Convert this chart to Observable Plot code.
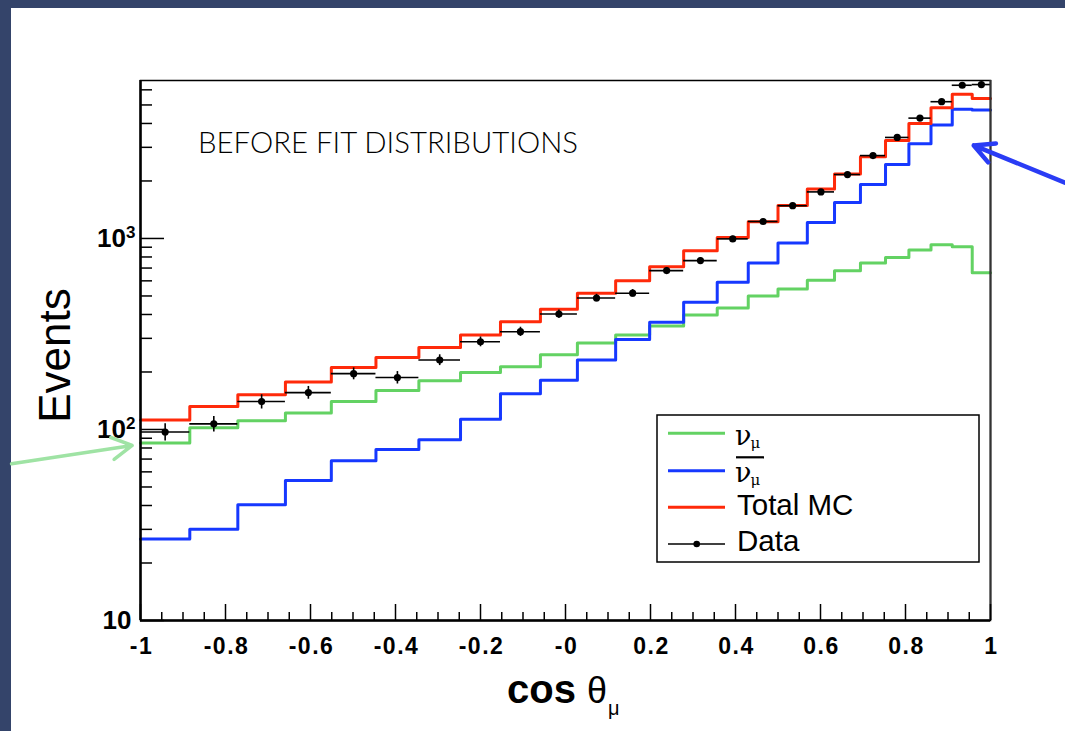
<!DOCTYPE html>
<html>
<head>
<meta charset="utf-8">
<script src="https://cdn.jsdelivr.net/npm/d3@7"></script>
<script src="https://cdn.jsdelivr.net/npm/@observablehq/plot@0.6"></script>
<style>
  html, body { margin: 0; padding: 0; }
  body { width: 1065px; height: 731px; background: #34446a; overflow: hidden; position: relative; }
  #panel { position: absolute; left: 11px; top: 8px; width: 1054px; height: 723px; background: #ffffff; }
  #chart { position: absolute; left: 0; top: 0; }
</style>
</head>
<body>
<div id="panel"></div>
<div id="chart"></div>
<script>
// ---- data ----
const binEdges = [-1, -0.884, -0.771, -0.659, -0.551, -0.446, -0.345, -0.247, -0.153, -0.059,
  0.028, 0.118, 0.198, 0.278, 0.357, 0.430, 0.500, 0.569, 0.633, 0.694,
  0.753, 0.808, 0.860, 0.910, 0.957, 1];

const numu = [85, 102, 111, 122, 140, 160, 180, 199, 213, 246,
  284, 312, 348, 397, 432, 500, 544, 605, 677, 743,
  795, 869, 926, 904, 662];

const numubar = [26.7, 30, 40.4, 54, 68.6, 78.6, 88.3, 113, 154, 181,
  231, 296, 364, 463, 590, 743, 946, 1213, 1545, 1915,
  2438, 3132, 3922, 4743, 4704];

const totalMC = [112, 132, 152, 177, 211, 238, 269, 312, 366, 426,
  517, 601, 712, 862, 1011, 1224, 1490, 1817, 2178, 2676,
  3258, 4000, 4838, 5685, 5397];

const dataVals = [97, 107, 140, 156, 196, 187, 231, 288, 325, 402,
  488, 517, 679, 766, 995, 1227, 1484, 1753, 2161, 2716,
  3380, 4266, 5200, 6340, 6393];

const dataErr = [10, 10, 12, 12, 14, 14, 15, 17, 18, 20,
  22, 23, 26, 28, 32, 35, 39, 42, 46, 52,
  58, 65, 72, 80, 80];

const xMajor = [-1, -0.8, -0.6, -0.4, -0.2, 0, 0.2, 0.4, 0.6, 0.8, 1];
const xTickLabels = ["-1", "-0.8", "-0.6", "-0.4", "-0.2", "-0", "0.2", "0.4", "0.6", "0.8", "1"];
const xMinor = [-0.95, -0.9, -0.85, -0.75, -0.7, -0.65, -0.55, -0.5, -0.45, -0.35, -0.3, -0.25,
  -0.15, -0.1, -0.05, 0.05, 0.1, 0.15, 0.25, 0.3, 0.35, 0.45, 0.5, 0.55, 0.65, 0.7, 0.75,
  0.85, 0.9, 0.95];
const yMajor = [10, 100, 1000];
const yTickBase = ["10", "10", "10"];
const yTickExp = ["", "2", "3"];
const yMinor = [20, 30, 40, 50, 60, 70, 80, 90, 200, 300, 400, 500, 600, 700, 800, 900,
  2000, 3000, 4000, 5000, 6000];
const yDomain = [10, 6714];

const titleText = "BEFORE FIT DISTRIBUTIONS";
const legendLabels = ["ν", "ν", "Total MC", "Data"];

// annotation arrows (tail -> tip) in chart coordinates
const greenArrow = [{x1: -1.3035, y1: 66.1, x2: -1.0195, y2: 82.5}];
const blueArrow = [{x1: 1.1765, y1: 1954, x2: 0.9607, y2: 3069}];

// ---- colours ----
const cGreen = "#63d263", cBlue = "#1638ff", cRed = "#ff2a0a";

// ---- derived tables ----
const histo = vals => binEdges.map((e, i) => ({x: e, y: vals[Math.min(i, vals.length - 1)]}));
const dataPts = dataVals.map((v, i) => ({
  x: (binEdges[i] + binEdges[i + 1]) / 2,
  x1: binEdges[i], x2: binEdges[i + 1],
  y: v, lo: v - dataErr[i], hi: v + dataErr[i]
}));

const W = 1065, H = 731, mL = 140, mR = 75, mT = 80, mB = 111;
const pw = W - mL - mR, ph = H - mT - mB;

const plot = Plot.plot({
  width: W, height: H,
  marginLeft: mL, marginRight: mR, marginTop: mT, marginBottom: mB,
  x: {domain: [-1, 1]},
  y: {type: "log", domain: yDomain},
  style: {background: "transparent", fontFamily: "'Liberation Sans', Arial, sans-serif", color: "black", overflow: "visible"},
  marks: [
    // histograms
    Plot.line(histo(numu), {x: "x", y: "y", curve: "step-after", stroke: cGreen, strokeWidth: 3}),
    Plot.line(histo(numubar), {x: "x", y: "y", curve: "step-after", stroke: cBlue, strokeWidth: 3}),
    Plot.line(histo(totalMC), {x: "x", y: "y", curve: "step-after", stroke: cRed, strokeWidth: 3}),
    // data
    Plot.ruleY(dataPts, {y: "y", x1: "x1", x2: "x2", stroke: "black", strokeWidth: 1.6}),
    Plot.ruleX(dataPts, {x: "x", y1: "lo", y2: "hi", stroke: "black", strokeWidth: 1.6}),
    Plot.dot(dataPts, {x: "x", y: "y", r: 3.6, fill: "black"}),
    // frame & inward ticks
    Plot.frame({stroke: "black", strokeWidth: 1.5}),
    Plot.ruleX([-1], {stroke: "black", strokeWidth: 2.5}),
    Plot.ruleY([10], {stroke: "black", strokeWidth: 2.5}),
    Plot.ruleX([1], {stroke: "#333", strokeWidth: 2}),
    Plot.ruleX(xMajor, {x: d => d, insetTop: ph - 16, stroke: "black", strokeWidth: 1.5}),
    Plot.ruleX(xMinor, {x: d => d, insetTop: ph - 8, stroke: "black", strokeWidth: 1.5}),
    Plot.ruleY(yMajor, {y: d => d, insetRight: pw - 24, stroke: "black", strokeWidth: 1.5}),
    Plot.ruleY(yMinor, {y: d => d, insetRight: pw - 12, stroke: "black", strokeWidth: 1.5}),
    // axes labels
    Plot.axisX(xMajor, {tickFormat: d => xTickLabels[xMajor.indexOf(d)], tickSize: 0, tickPadding: 17,
      fontSize: 23, fontWeight: "bold", label: null}),
    Plot.axisY(yMajor, {tickFormat: d => yTickBase[yMajor.indexOf(d)], tickSize: 0, tickPadding: 9,
      fontSize: 26, fontWeight: "bold", label: null}),
    // annotation arrows
    Plot.arrow(greenArrow, {x1: "x1", y1: "y1", x2: "x2", y2: "y2", stroke: "#9fe3a4", strokeWidth: 3.5,
      headLength: 9.8, headAngle: 58}),
    Plot.arrow(blueArrow, {x1: "x1", y1: "y1", x2: "x2", y2: "y2", stroke: "#2a3cf5", strokeWidth: 4.5,
      headLength: 7.4, headAngle: 55})
  ]
});

document.getElementById("chart").appendChild(plot);
const svg = d3.select(plot);
svg.selectAll('g[aria-label="x-axis tick label"] text').style("letter-spacing", "1.5px").attr("dx", "1");
// superscript exponents on the y tick labels
const yLabelNodes = svg.selectAll('g[aria-label="y-axis tick label"] text').nodes();
yLabelNodes.forEach((node, idx) => {
  const t = d3.select(node);
  const txt = t.text();
  const exp = yTickExp[idx];
  if (exp) {
    t.text(null);
    t.attr("dx", 4);
    t.append("tspan").text(txt);
    t.append("tspan").attr("font-size", 17).attr("dy", -9).text(exp);
  }
});

const start = sel => sel.attr("text-anchor", "start");

// title
start(svg.append("text")).attr("x", 198).attr("y", 153)
  .attr("font-family", "Lato, 'Open Sans', sans-serif").attr("font-weight", 300)
  .attr("font-size", 29).attr("textLength", 380).attr("lengthAdjust", "spacingAndGlyphs")
  .attr("fill", "#000").text(titleText);

// y label
svg.append("text").attr("transform", "translate(70,355.5) rotate(-90)")
  .attr("text-anchor", "middle").attr("font-size", 44).attr("fill", "black").text("Events");

// x label
const xl = start(svg.append("text")).attr("x", 507).attr("y", 703).attr("fill", "black");
xl.append("tspan").attr("font-size", 40).attr("font-weight", "bold").text("cos ");
xl.append("tspan").attr("font-size", 36).attr("font-weight", "normal").text("θ");
xl.append("tspan").attr("font-size", 20).attr("dy", 12).attr("dx", 1).text("μ");

// legend
const lg = svg.append("g").attr("text-anchor", "start");
lg.append("rect").attr("x", 657).attr("y", 415).attr("width", 322).attr("height", 147)
  .attr("fill", "white").attr("stroke", "black").attr("stroke-width", 1.5);
const rows = [
  {y: 433.3, color: cGreen, w: 3},
  {y: 470.7, color: cBlue, w: 3},
  {y: 507.3, color: cRed, w: 3},
  {y: 544, color: "black", w: 1.5}
];
rows.forEach(r => lg.append("line").attr("x1", 668).attr("x2", 725).attr("y1", r.y).attr("y2", r.y)
  .attr("stroke", r.color).attr("stroke-width", r.w));
lg.append("circle").attr("cx", 696.7).attr("cy", 544).attr("r", 3.3).attr("fill", "black");

const greekFont = "'DejaVu Serif', 'Liberation Serif', serif";
const t1 = start(lg.append("text")).attr("x", 735).attr("y", 445).attr("fill", "black");
t1.append("tspan").attr("font-family", greekFont).attr("font-size", 27).text(legendLabels[0]);
t1.append("tspan").attr("font-family", greekFont).attr("font-size", 15).attr("dx", -1).attr("dy", 3).text("μ");

lg.append("line").attr("x1", 736).attr("x2", 764).attr("y1", 457.3).attr("y2", 457.3)
  .attr("stroke", "black").attr("stroke-width", 2.2);
const t2 = start(lg.append("text")).attr("x", 735).attr("y", 481.5).attr("fill", "black");
t2.append("tspan").attr("font-family", greekFont).attr("font-size", 27).text(legendLabels[1]);
t2.append("tspan").attr("font-family", greekFont).attr("font-size", 15).attr("dx", -1).attr("dy", 3).text("μ");

start(lg.append("text")).attr("x", 737).attr("y", 515).attr("font-size", 29.5).attr("fill", "black").text(legendLabels[2]);
start(lg.append("text")).attr("x", 737).attr("y", 550.7).attr("font-size", 29.5).attr("fill", "black").text(legendLabels[3]);
</script>
</body>
</html>
